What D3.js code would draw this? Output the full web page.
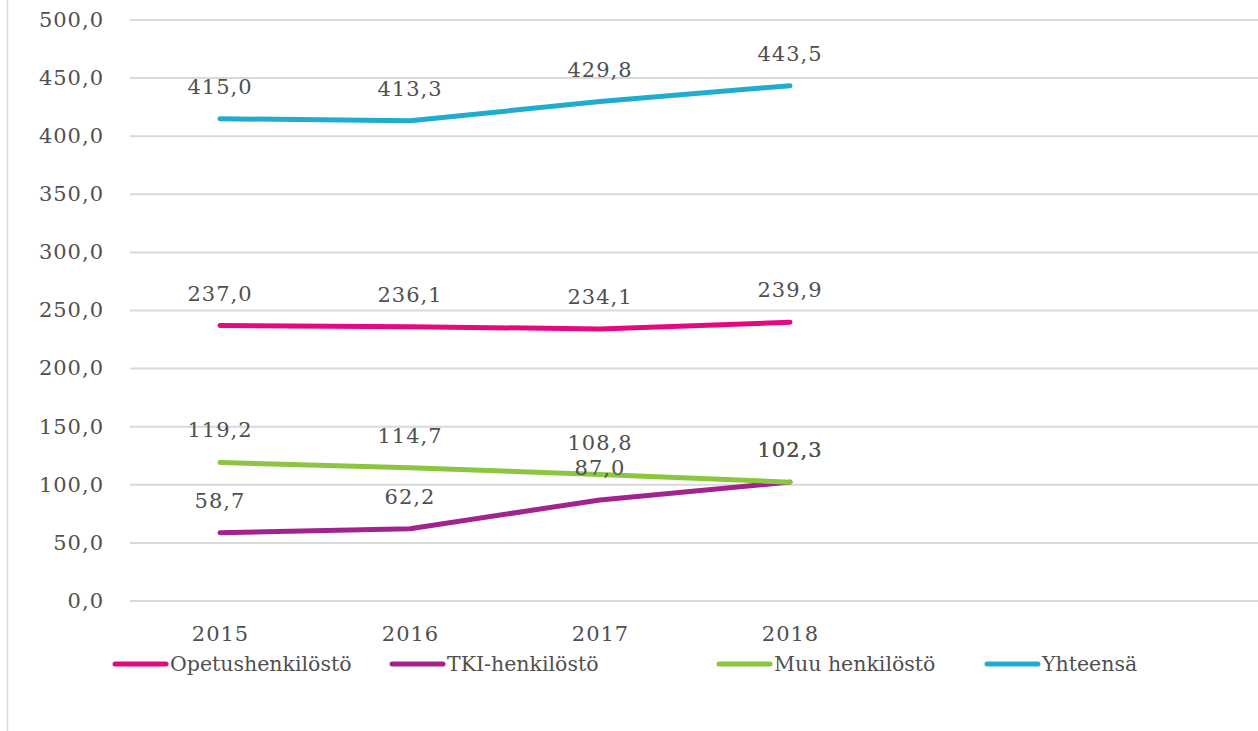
<!DOCTYPE html>
<html>
<head>
<meta charset="utf-8">
<script src="https://cdn.jsdelivr.net/npm/d3@7"></script>
<style>
  body { margin:0; background:#fff; }
  text { font-family:"DejaVu Serif", Georgia, serif; fill:#505050; }
</style>
</head>
<body>
<div id="chart-area"></div>
<script>
//Data
var years = ["2015", "2016", "2017", "2018"];
var opetus = [237.0, 236.1, 234.1, 239.9];
var tki = [58.7, 62.2, 87.0, 102.3];
var muu = [119.2, 114.7, 108.8, 102.3];
var yhteensa = [415.0, 413.3, 429.8, 443.5];
var yTicks = [0, 50, 100, 150, 200, 250, 300, 350, 400, 450, 500];

var series = [
    { name:"Opetushenkilöstö", values:opetus, color:"#e5097f" },
    { name:"TKI-henkilöstö", values:tki, color:"#a3238e" },
    { name:"Muu henkilöstö", values:muu, color:"#8cc63f" },
    { name:"Yhteensä", values:yhteensa, color:"#1eaecb" }
];

var W = 1258, H = 731;
var svg = d3.select("#chart-area").append("svg")
    .attr("width", W)
    .attr("height", H);

//left frame edge
svg.append("line")
    .attr("x1", 7.5).attr("x2", 7.5)
    .attr("y1", 0).attr("y2", H)
    .attr("stroke", "#d9d9d9")
    .attr("stroke-width", 1.5);

//Scales
var x = d3.scalePoint()
    .domain(years)
    .range([220, 790]);
var y = d3.scaleLinear()
    .domain([0, 500])
    .range([601, 20]);

var fmt = function(v){ return d3.format(".1f")(v).replace(".", ","); };

//Gridlines
svg.append("g").selectAll("line")
    .data(yTicks).enter().append("line")
    .attr("x1", 130).attr("x2", W)
    .attr("y1", (d) => y(d)).attr("y2", (d) => y(d))
    .attr("stroke", "#d9d9d9")
    .attr("stroke-width", 2);

//Y axis
var yAxis = svg.append("g")
    .attr("transform", "translate(104,0)")
    .call(d3.axisLeft(y).tickValues(yTicks).tickSize(0).tickPadding(0).tickFormat(fmt));
yAxis.select(".domain").remove();
yAxis.selectAll("text")
    .style("font-size", "21px")
    .style("letter-spacing", "1px")
    .style("font-family", null)
    .attr("fill", "#505050")
    .attr("dy", "0.3em");

//X axis
var xAxis = svg.append("g")
    .attr("transform", "translate(0,601)")
    .call(d3.axisBottom(x).tickSize(0).tickPadding(25));
xAxis.select(".domain").remove();
xAxis.selectAll("text")
    .style("font-size", "21px")
    .style("letter-spacing", "1px")
    .attr("fill", "#505050");

//Lines
var line = d3.line()
    .x((d, i) => x(years[i]))
    .y((d) => y(d));

svg.append("g").selectAll("path")
    .data(series).enter().append("path")
    .attr("d", (d) => line(d.values))
    .attr("fill", "none")
    .attr("stroke", (d) => d.color)
    .attr("stroke-width", 5)
    .attr("stroke-linecap", "round")
    .attr("stroke-linejoin", "round");

//Data labels
series.forEach(function(s){
    svg.append("g").selectAll("text")
        .data(s.values).enter().append("text")
        .attr("x", (d, i) => x(years[i]))
        .attr("y", (d) => y(d) - 25)
        .attr("text-anchor", "middle")
        .style("font-size", "21px")
        .style("letter-spacing", "1px")
        .text(fmt);
});

//Legend
var legendX = [113, 390, 717, 985];
var lg = svg.append("g").selectAll("g")
    .data(series).enter().append("g")
    .attr("transform", (d, i) => "translate(" + legendX[i] + ",664)");
lg.append("line")
    .attr("x1", 2).attr("x2", 53)
    .attr("stroke", (d) => d.color)
    .attr("stroke-width", 5)
    .attr("stroke-linecap", "round");
lg.append("text")
    .attr("x", 57)
    .attr("dy", "0.35em")
    .style("font-size", "20.5px")
    .text((d) => d.name);
</script>
</body>
</html>
